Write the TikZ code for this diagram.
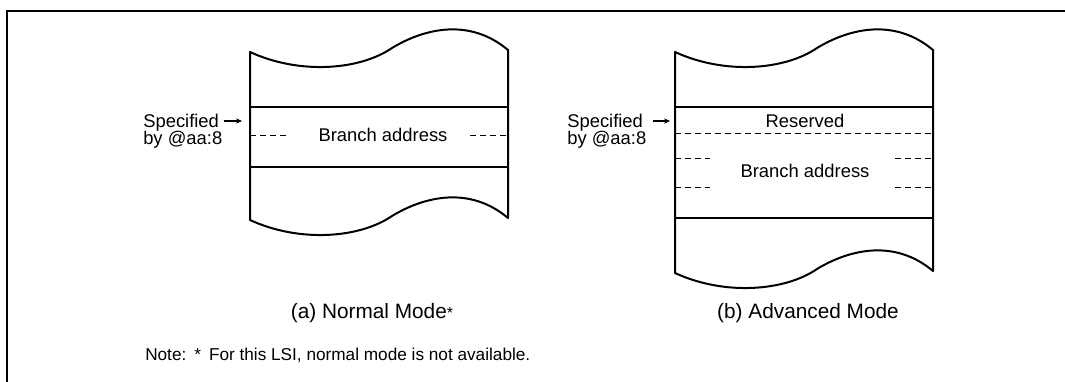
\documentclass[tikz,border=0pt]{standalone}
\usepackage{fontspec}
\setmainfont{Liberation Sans}
\usetikzlibrary{arrows.meta}
\begin{document}
\begin{tikzpicture}[x=0.75pt,y=-0.75pt,
  outline/.style={line width=1.5pt, line join=round},
  sepline/.style={line width=1.5pt},
  dsh/.style={line width=0.75pt, dash pattern=on 4.5pt off 3pt},
  lbl/.style={font=\fontsize{13.8}{16}\selectfont, inner sep=0pt},
  capt/.style={font=\fontsize{15.6}{18}\selectfont, inner sep=0pt},
  notetxt/.style={font=\fontsize{12.9}{15}\selectfont, inner sep=0pt},
  ptr/.style={-{Stealth[length=4.5pt,width=4pt]}, line width=0.8pt}]
\useasboundingbox (0,0) rectangle (1065,382);
% frame
\draw[line width=2pt] (7,400) -- (7,11) -- (1080,11);

% ---------- (a) Normal mode ----------
\begin{scope}[shift={(250,52)}]
\draw[outline] (258,-2) -- (258,166) .. controls (220,134) and (175,144) .. (142,164)
  .. controls (110,186) and (50,191) .. (0,168) -- (0,0)
  .. controls (50,23) and (110,18) .. (142,-4)
  .. controls (175,-24) and (220,-34) .. (258,-2) -- cycle;
\end{scope}
\draw[sepline] (250,107) -- (508,107);
\draw[sepline] (250,167) -- (508,167);
\draw[dsh] (250,135) -- (289,135);
\draw[dsh] (470,135) -- (508,135);
\node[lbl] (aba) at (383,135) {Branch address};
\node[lbl, anchor=base west] (aspec) at (143,127) {Specified};
\node[lbl, anchor=base west] (aby) at (143,144) {by @aa:8};
\coordinate (atail) at (224,121);
\coordinate (atip) at (242,121);
\draw[ptr] (atail) -- (atip);
\node[capt] (acap) at (372,313) {(a) Normal Mode{\fontsize{12}{12}\selectfont *}};

% ---------- (b) Advanced mode ----------
\begin{scope}[shift={(675,52)}]
\draw[outline] (258,-2) -- (258,219) .. controls (220,187) and (175,197) .. (142,217)
  .. controls (110,239) and (50,244) .. (0,221) -- (0,0)
  .. controls (50,23) and (110,18) .. (142,-4)
  .. controls (175,-24) and (220,-34) .. (258,-2) -- cycle;
\end{scope}
\draw[sepline] (675,107) -- (933,107);
\draw[sepline] (675,218) -- (933,218);
\draw[dsh] (675,133) -- (933,133);
\draw[dsh] (675,158) -- (710,158);
\draw[dsh] (675,187) -- (710,187);
\draw[dsh] (895,158) -- (933,158);
\draw[dsh] (895,187) -- (933,187);
\node[lbl] (bres) at (805,121) {Reserved};
\node[lbl] (bba) at (805,171) {Branch address};
\node[lbl, anchor=base west] (bspec) at (567,127) {Specified};
\node[lbl, anchor=base west] (bby) at (567,144) {by @aa:8};
\coordinate (btail) at (653,121);
\coordinate (btip) at (670,121);
\draw[ptr] (btail) -- (btip);
\node[capt] (bcap) at (808,313) {(b) Advanced Mode};

% note
\node[notetxt, anchor=west] (note) at (145,355) {Note:\hspace{6pt}*\hspace{6pt}For this LSI, normal mode is not available.};
\end{tikzpicture}
\end{document}
